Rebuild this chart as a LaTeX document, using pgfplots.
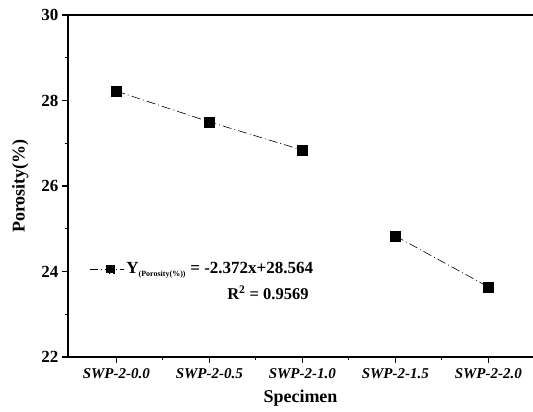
\documentclass[border=0pt]{standalone}
\usepackage{fontspec}
\setmainfont{Liberation Serif}
\usepackage{pgfplots}
\pgfplotsset{compat=1.18}
\begin{document}
\begin{tikzpicture}
\begin{axis}[
  name=ax,
  scale only axis,
  width=465pt, height=342pt,
  xmin=-0.52, xmax=4.48,
  ymin=22, ymax=30,
  axis x line*=box,
  axis y line*=left,
  xtick pos=lower,
  ytick pos=left,
  tick align=outside,
  major tick length=6pt,
  minor tick length=3pt,
  xtick={0,1,2,3,4},
  xticklabels={SWP-2-0.0,SWP-2-0.5,SWP-2-1.0,SWP-2-1.5,SWP-2-2.0},
  minor x tick num=1,
  ytick={22,24,26,28,30},
  minor y tick num=1,
  axis line style={line width=1.4pt},
  every tick/.style={line width=1.2pt, black},
  /pgf/number format/assume math mode=true,
  tick label style={font=\fontsize{17}{19}\selectfont\bfseries},
  xticklabel style={font=\fontsize{15}{17}\selectfont\bfseries\itshape, yshift=-2pt},
  xlabel={Specimen},
  ylabel={Porosity(\%)},
  label style={font=\fontsize{18}{20}\selectfont\bfseries},
  xlabel style={yshift=-4pt},
  ylabel style={yshift=6pt},
  legend style={draw=none, fill=none, at={(rel axis cs:0.04,0.257)}, anchor=west,
    font=\fontsize{17}{19}\selectfont\bfseries},
  legend cell align=left,
  legend image code/.code={
    \draw[black, line width=0.6pt, dash pattern=on 8pt off 3pt on 1pt off 3pt] (0pt,0pt) -- (34pt,0pt);
    \fill[black] (16pt,-4pt) rectangle (24pt,4pt);
  },
]
\addplot[black, line width=0.6pt, dash pattern=on 9pt off 3pt on 1pt off 3pt,
  mark=square*, mark size=5pt, mark options={solid, fill=black}]
  coordinates {(0,28.22) (1,27.50) (2,26.84)};
\addlegendentry{Y\textsubscript{\fontsize{8}{9}\selectfont (Porosity(\%))} = -2.372x+28.564}
\addplot[black, line width=0.6pt, dash pattern=on 9pt off 3pt on 1pt off 3pt,
  mark=square*, mark size=5pt, mark options={solid, fill=black}, forget plot]
  coordinates {(3,24.83) (4,23.64)};
\node[font=\fontsize{16.5}{18}\selectfont\bfseries, anchor=west] at (rel axis cs:0.335,0.188) {R\textsuperscript{2} = 0.9569};
\end{axis}
\pgfresetboundingbox
\path ([xshift=-68pt,yshift=-55pt]ax.south west) rectangle ([yshift=15pt]ax.north east);
\end{tikzpicture}
\end{document}
